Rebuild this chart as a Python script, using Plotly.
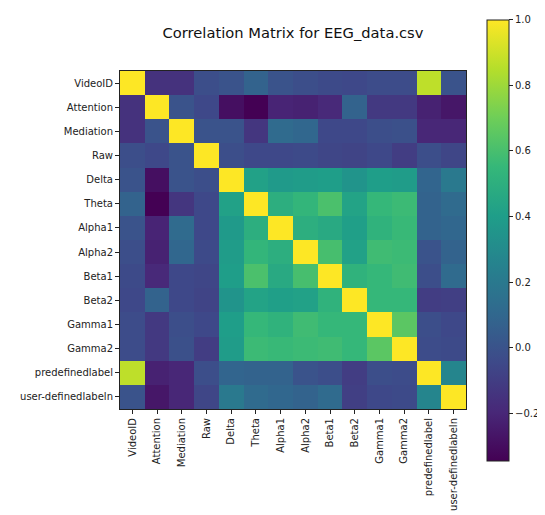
import plotly.graph_objects as go

# Correlation matrix for EEG_data.csv
# ---------------------------------------------------------
labels = ["VideoID", "Attention", "Mediation", "Raw", "Delta", "Theta",
          "Alpha1", "Alpha2", "Beta1", "Beta2", "Gamma1", "Gamma2",
          "predefinedlabel", "user-definedlabeln"]

r_videoid = [1.00, -0.15, -0.15, -0.02, 0.00, 0.08, 0.00, -0.02, -0.04, -0.05, -0.03, -0.03, 0.87, 0.00]
r_attention = [-0.15, 1.00, 0.00, -0.05, -0.29, -0.345, -0.21, -0.22, -0.19, 0.08, -0.12, -0.12, -0.22, -0.26]
r_mediation = [-0.15, 0.00, 1.00, 0.00, 0.00, -0.13, 0.12, 0.10, -0.05, -0.05, -0.02, -0.01, -0.20, -0.20]
r_raw = [-0.02, -0.05, 0.00, 1.00, -0.02, -0.05, -0.05, -0.04, -0.06, -0.07, -0.05, -0.10, -0.02, -0.06]
r_delta = [0.00, -0.29, 0.00, -0.02, 1.00, 0.42, 0.38, 0.39, 0.40, 0.35, 0.40, 0.39, 0.09, 0.20]
r_theta = [0.08, -0.345, -0.13, -0.05, 0.42, 1.00, 0.50, 0.54, 0.61, 0.43, 0.55, 0.57, 0.08, 0.12]
r_alpha1 = [0.00, -0.21, 0.12, -0.05, 0.38, 0.50, 1.00, 0.50, 0.47, 0.41, 0.52, 0.56, 0.08, 0.10]
r_alpha2 = [-0.02, -0.22, 0.10, -0.04, 0.39, 0.54, 0.50, 1.00, 0.60, 0.42, 0.58, 0.57, 0.00, 0.08]
r_beta1 = [-0.04, -0.19, -0.05, -0.06, 0.40, 0.61, 0.47, 0.60, 1.00, 0.52, 0.55, 0.58, -0.02, 0.12]
r_beta2 = [-0.05, 0.08, -0.05, -0.07, 0.35, 0.43, 0.41, 0.42, 0.52, 1.00, 0.55, 0.55, -0.10, -0.09]
r_gamma1 = [-0.03, -0.12, -0.02, -0.05, 0.40, 0.55, 0.52, 0.58, 0.55, 0.55, 1.00, 0.65, -0.02, -0.05]
r_gamma2 = [-0.03, -0.12, -0.01, -0.10, 0.39, 0.57, 0.56, 0.57, 0.58, 0.55, 0.65, 1.00, -0.03, -0.04]
r_predef = [0.87, -0.22, -0.20, -0.02, 0.09, 0.08, 0.08, 0.00, -0.02, -0.10, -0.02, -0.03, 1.00, 0.27]
r_userdef = [0.00, -0.26, -0.20, -0.06, 0.20, 0.12, 0.10, 0.08, 0.12, -0.09, -0.05, -0.04, 0.27, 1.00]

cbar_ticks = [-0.2, 0.0, 0.2, 0.4, 0.6, 0.8, 1.0]

z = [r_videoid, r_attention, r_mediation, r_raw, r_delta, r_theta, r_alpha1,
     r_alpha2, r_beta1, r_beta2, r_gamma1, r_gamma2, r_predef, r_userdef]

FONT = "DejaVu Sans"

fig = go.Figure()
fig.add_trace(go.Heatmap(
    z=z, x=labels, y=labels,
    colorscale="Viridis", zmin=-0.345, zmax=1.0,
    colorbar=dict(
        x=1.062, xanchor="left", xpad=0,
        y=0.499, yanchor="middle", ypad=0,
        lenmode="pixels", len=441,
        thickness=22, outlinewidth=1, outlinecolor="#222",
        tickvals=cbar_ticks, ticktext=[f"{v:.1f}".replace("-", "\u2212") for v in cbar_ticks],
        ticks="outside", ticklen=4, tickcolor="#222",
        tickfont=dict(family=FONT, size=10, color="#222"),
    ),
))

fig.update_layout(
    width=545, height=515,
    margin=dict(l=108, r=83, t=54, b=109),
    paper_bgcolor="white", plot_bgcolor="white",
    title=dict(text="Correlation Matrix for EEG_data.csv",
               x=0.523, xanchor="center", y=0.951, yanchor="middle",
               font=dict(family=FONT, size=14.7, color="#111")),
    font=dict(family=FONT, size=10, color="#222"),
)
fig.update_xaxes(showgrid=False, zeroline=False, tickangle=-90,
                 ticks="outside", ticklen=4, tickcolor="#222",
                 showline=True, linecolor="#222", linewidth=1, mirror=True,
                 tickfont=dict(family=FONT, size=10, color="#222"))
fig.update_yaxes(showgrid=False, zeroline=False, autorange="reversed",
                 ticks="outside", ticklen=4, tickcolor="#222",
                 showline=True, linecolor="#222", linewidth=1, mirror=True,
                 tickfont=dict(family=FONT, size=10, color="#222"))

fig.write_html("out.html")
